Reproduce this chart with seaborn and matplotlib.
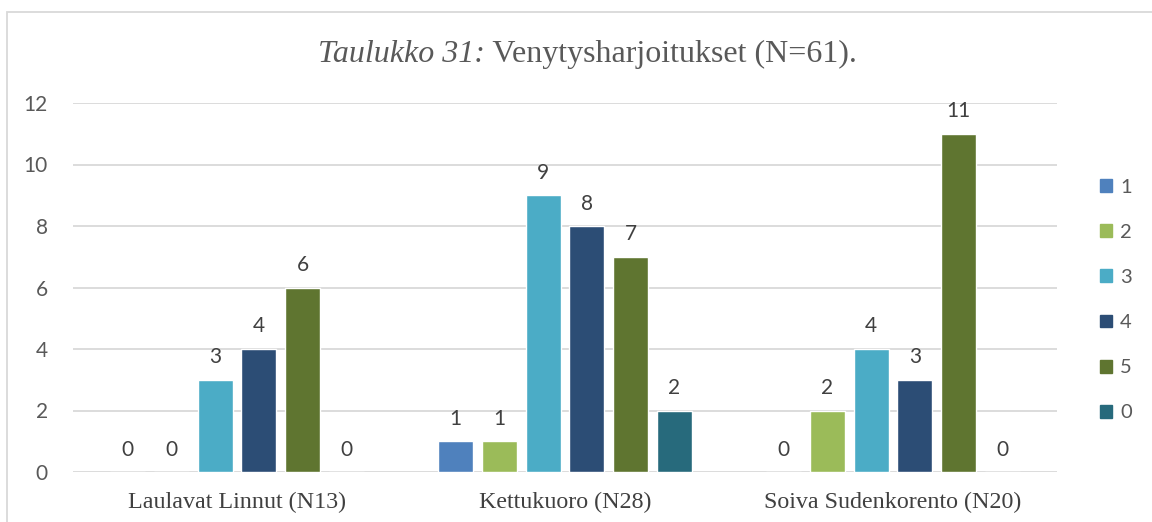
import numpy as np
import pandas as pd
import matplotlib
matplotlib.use("Agg")
import matplotlib.pyplot as plt
import seaborn as sns
from matplotlib.patches import Rectangle

# Data
groups = ["Laulavat Linnut (N13)", "Kettukuoro (N28)", "Soiva Sudenkorento (N20)"]
answers = ["1", "2", "3", "4", "5", "0"]
values_1 = [0, 1, 0]
values_2 = [0, 1, 2]
values_3 = [3, 9, 4]
values_4 = [4, 8, 3]
values_5 = [6, 7, 11]
values_0 = [0, 2, 0]
colors = ["#4F81BD", "#9BBB59", "#4BACC6", "#2C4D75", "#5F7530", "#276A7C"]

series = [values_1, values_2, values_3, values_4, values_5, values_0]
rows = []
for ans, vals in zip(answers, series):
    for g, v in zip(groups, vals):
        rows.append({"ryhma": g, "vastaus": ans, "lkm": v})
df = pd.DataFrame(rows)

sns.set_style("white")
plt.rcParams['font.family'] = ['Lato', 'DejaVu Sans']

fig = plt.figure(figsize=(11.52, 5.22), dpi=100)
ax = fig.add_axes([73 / 1152, 1 - 472 / 522, (1057 - 73) / 1152, (472 - 103) / 522])

sns.barplot(data=df, x="ryhma", y="lkm", hue="vastaus", hue_order=answers,
            order=groups, palette=dict(zip(answers, colors)), saturation=1,
            width=0.8, gap=0.2, ax=ax, legend=False)

for cont in ax.containers:
    ax.bar_label(cont, fmt="%d", padding=9, fontsize=15, color="#404040")

ax.set_ylim(0, 12)
ax.set_xlim(-0.5, 2.5)
ax.set_yticks(range(0, 13, 2))
ax.yaxis.grid(True, color="#D9D9D9", linewidth=1.3)
ax.set_axisbelow(True)
sns.despine(ax=ax, left=True, bottom=True)
ax.set_xlabel("")
ax.set_ylabel("")
ax.tick_params(axis="y", length=0, pad=18, labelsize=15, labelcolor="#595959")
ax.tick_params(axis="x", length=0, pad=14, labelcolor="#404040")
for lab in ax.get_xticklabels():
    lab.set_fontfamily("Liberation Serif")
    lab.set_fontsize(17.3)

# legend
handles = [Rectangle((0, 0), 1, 1, color=c) for c in colors]
fig.legend(handles, answers, loc="center left", bbox_to_anchor=(1082 / 1152, 1 - 300 / 522),
           frameon=False, fontsize=14.5, labelcolor="#595959", handlelength=0.6,
           handleheight=0.6, handletextpad=0.4, labelspacing=1.4)

# chart border
fig.add_artist(Rectangle((7 / 1152, -0.2), 1.1, 1.2 - 12 / 522, transform=fig.transFigure,
                         fill=False, edgecolor="#D9D9D9", linewidth=1.3))

# title: italic part + normal part
fig.canvas.draw()
r = fig.canvas.get_renderer()
ty = 1 - 54 / 522
t1 = fig.text(0, ty, "Taulukko 31:", fontfamily="Liberation Serif", fontstyle="italic",
              fontsize=23, color="#595959", va="center", ha="left")
t2 = fig.text(0, ty, " Venytysharjoitukset (N=61).", fontfamily="Liberation Serif",
              fontsize=23, color="#595959", va="center", ha="left")
w1 = t1.get_window_extent(r).width / fig.bbox.width
w2 = t2.get_window_extent(r).width / fig.bbox.width
x0 = 587 / 1152 - (w1 + w2) / 2
t1.set_x(x0)
t2.set_x(x0 + w1)

fig.savefig("out.png", dpi=100)
